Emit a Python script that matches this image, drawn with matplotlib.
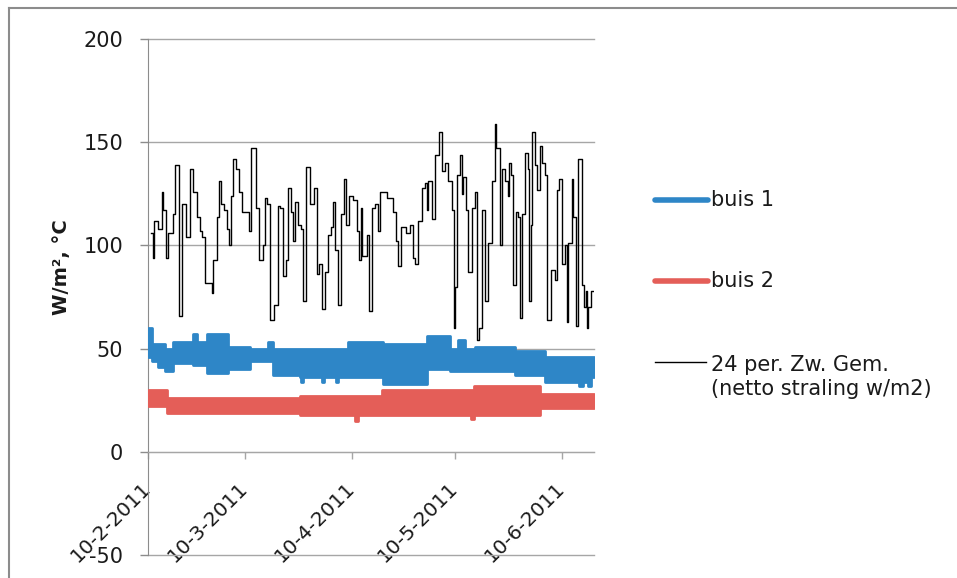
import datetime as dt
import matplotlib
matplotlib.use("Agg")
import matplotlib.pyplot as plt
from matplotlib.lines import Line2D

plt.rcParams["axes.unicode_minus"] = False

# data (days after 10-2-2011)
start = dt.datetime(2011, 2, 10)
end_day = 129.3

black_days = [1.0, 1.5, 1.8, 3.0, 4.0, 4.3, 5.1, 5.9, 7.2, 7.9, 9.0, 9.9, 10.9, 12.2, 13.1,
              14.1, 15.1, 15.8, 16.6, 18.5, 18.9, 19.9, 20.6, 21.1, 22.0, 23.0, 23.6, 24.2,
              24.7, 25.5, 26.5, 27.2, 29.4, 29.8, 31.3, 32.1, 33.2, 34.0, 34.6, 35.4, 36.6,
              37.6, 38.3, 39.0, 39.9, 40.5, 41.4, 42.1, 42.6, 43.6, 44.5, 45.0, 45.7, 47.0,
              48.1, 48.9, 49.7, 50.5, 51.2, 52.1, 53.0, 53.7, 54.2, 55.2, 55.9, 56.8, 57.4,
              58.3, 59.5, 60.5, 61.3, 61.7, 62.0, 63.4, 64.1, 64.8, 65.7, 66.6, 67.4, 69.4,
              70.9, 71.9, 72.6, 73.3, 74.7, 75.9, 76.9, 77.5, 78.3, 79.3, 80.3, 80.8, 81.3,
              82.2, 83.2, 84.4, 85.1, 86.1, 87.0, 88.0, 88.7, 89.0, 89.5, 90.4, 90.9, 91.4,
              92.2, 92.8, 93.8, 94.8, 95.5, 95.9, 96.7, 97.7, 98.6, 99.6, 100.4, 100.6,
              100.9, 102.0, 102.5, 103.5, 104.4, 104.8, 105.2, 105.7, 106.7, 107.3, 107.8,
              108.3, 109.3, 110.1, 110.5, 110.9, 111.4, 112.2, 112.8, 113.6, 114.3, 115.1,
              115.7, 116.8, 118.0, 118.6, 119.2, 119.9, 120.9, 121.4, 121.8, 122.8, 123.2,
              124.0, 124.7, 125.7, 126.4, 127.1, 127.4, 127.7, 128.4, 129.0]
black_vals = [106, 94, 112, 108, 126, 117, 94, 106, 115, 139, 66, 120, 104, 137, 126,
              114, 107, 104, 82, 77, 93, 114, 131, 120, 117, 108, 100, 124,
              142, 137, 126, 116, 107, 147, 118, 93, 100, 123, 120, 64, 71,
              119, 118, 85, 93, 128, 116, 102, 121, 110, 108, 73, 138, 120,
              128, 86, 91, 69, 87, 105, 109, 121, 98, 71, 115, 132, 110,
              124, 122, 107, 93, 118, 95, 105, 68, 118, 120, 107, 126, 123,
              116, 102, 90, 109, 106, 110, 94, 91, 112, 128, 130, 117, 131,
              113, 144, 155, 136, 140, 131, 117, 60, 80, 134, 144, 125, 133,
              117, 87, 118, 126, 54, 60, 117, 73, 101, 131, 131, 159,
              147, 100, 137, 131, 124, 140, 134, 81, 116, 114, 65,
              115, 145, 137, 73, 110, 155, 139, 127, 148, 140, 134,
              64, 88, 83, 127, 132, 91, 100, 63, 101, 132, 114,
              61, 142, 81, 70, 78, 60, 70, 78, 78]

buis1_days = [0, 1.1, 3.0, 4.9, 7.3, 13.1, 14.1, 17.0, 23.3, 29.6, 34.9, 36.3, 44.0, 44.4,
              45.0, 50.5, 51.0, 54.6, 55.1, 58.1, 68.2, 80.8, 87.5, 90.0, 91.9, 94.8,
              106.4, 115.1, 125.0, 126.0, 127.5, 128.3]
buis1_hi = [60, 52, 52, 50, 53, 57, 53, 57, 51, 50, 53, 50, 50, 50, 50, 50, 50, 50, 50,
            53, 52, 56, 50, 54, 50, 51, 49, 46, 46, 46, 46, 46]
buis1_lo = [46, 44, 41, 39, 43, 42, 42, 38, 40, 44, 44, 37, 36, 34, 36, 34, 36, 34, 36,
            36, 33, 40, 39, 39, 39, 39, 37, 34, 32, 34, 32, 36]

buis2_days = [0, 5.4, 44.0, 60.0, 60.8, 67.7, 93.5, 94.5, 113.6]
buis2_hi = [30, 26, 27, 27, 27, 30, 30, 32, 28]
buis2_lo = [22, 19, 18, 15, 18, 18, 16, 18, 21]

month_ticks = [dt.datetime(2011, m, 10) for m in range(2, 7)]

blue = "#2E86C7"
red = "#E45E58"
grid_c = "#A6A6A6"
txt_c = "#1A1A1A"


def to_dates(days):
    return [start + dt.timedelta(days=d) for d in days]


fig = plt.figure(figsize=(9.57, 5.78), dpi=100)
ax = fig.add_axes([148 / 957, 1 - 555 / 578, (594 - 148) / 957, (555 - 39) / 578])

# bands for the two tubes (hourly data drawn thick in the original)
for days, hi, lo, col in [(buis1_days, buis1_hi, buis1_lo, blue),
                          (buis2_days, buis2_hi, buis2_lo, red)]:
    xs = to_dates(days + [end_day])
    ax.fill_between(xs, lo + [lo[-1]], hi + [hi[-1]], step="post",
                    color=col, edgecolor=col, lw=2, joinstyle="round", zorder=3)

ax.plot(to_dates(black_days), black_vals, drawstyle="steps-post",
        color="black", lw=1.0, zorder=4)

ax.set_xlim(start, start + dt.timedelta(days=end_day))
ax.set_ylim(-50, 200)
ax.set_yticks(range(-50, 201, 50))
ax.yaxis.grid(True, color=grid_c, lw=1.0)
for gl in ax.get_ygridlines():
    gl.set_clip_on(False)
ax.set_axisbelow(True)

ax.set_xticks(month_ticks)
ax.set_xticklabels([f"{d.day}-{d.month}-{d.year}" for d in month_ticks])

for s in ["top", "right"]:
    ax.spines[s].set_visible(False)
ax.spines["bottom"].set_position(("data", 0))
ax.spines["bottom"].set_color(grid_c)
ax.spines["left"].set_color("#8C8C8C")

ax.tick_params(axis="y", length=6, width=1, color="#8C8C8C", pad=12,
               labelsize=15, labelcolor=txt_c)
ax.tick_params(axis="x", length=5, width=1, color=grid_c, pad=19,
               labelsize=14.5, labelcolor=txt_c)
for lbl in ax.get_xticklabels():
    lbl.set_rotation(45)
    lbl.set_ha("right")
    lbl.set_va("center")
    lbl.set_rotation_mode("anchor")

fig.text(61 / 957, 1 - 267 / 578, "W/m², °C", rotation=90, ha="center", va="center",
         fontsize=14, fontweight="bold", color=txt_c)

# legend drawn by hand to match the original placement
W, H = 957, 578
for y, col, lw, label in [(200, blue, 4, "buis 1"), (281, red, 4, "buis 2")]:
    fig.add_artist(Line2D([655 / W, 708 / W], [1 - y / H] * 2, color=col, lw=lw,
                          solid_capstyle="round", transform=fig.transFigure))
    fig.text(711 / W, 1 - y / H, label, fontsize=15, va="center", color=txt_c)
fig.add_artist(Line2D([655 / W, 706 / W], [1 - 362 / H] * 2, color="black", lw=1,
                      transform=fig.transFigure))
fig.text(711 / W, 1 - 377 / H, "24 per. Zw. Gem.\n(netto straling w/m2)", fontsize=15,
         va="center", linespacing=1.2, color=txt_c)

# chart area border (only top and left show in the crop)
fig.add_artist(Line2D([9 / W, 1.0], [1 - 8 / H] * 2, color="#8C8C8C", lw=1.5,
                      transform=fig.transFigure))
fig.add_artist(Line2D([9 / W, 9 / W], [0, 1 - 8 / H], color="#8C8C8C", lw=1.5,
                      transform=fig.transFigure))

fig.savefig("out.png", dpi=100)
